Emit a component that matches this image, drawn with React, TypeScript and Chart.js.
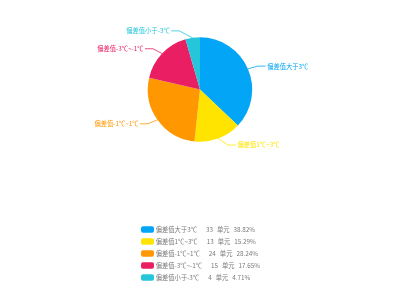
import React, { useEffect, useRef } from "react";
import { Chart, registerables } from "chart.js";

Chart.register(...registerables);

const categories = ["偏差值大于3℃", "偏差值1℃~3℃", "偏差值-1℃~1℃", "偏差值-3℃~-1℃", "偏差值小于-3℃"];
const counts = [33, 13, 24, 15, 4];
const percents = ["38.82%", "15.29%", "28.24%", "17.65%", "4.71%"];
const unitLabel = "单元";
const colors = ["#03A6F6", "#FFE400", "#FF9800", "#E91E63", "#26C6DA"];

const FONT = '"Noto Sans CJK SC", "Noto Sans", sans-serif';
const FONT_SIZE = 6.3;

const outerLabels = {
  id: "outerLabels",
  afterDatasetsDraw(chart: any) {
    const ctx = chart.ctx;
    const meta = chart.getDatasetMeta(0);
    const LEN_Y = 7;
    const LEN_X = 10;
    const LEN2 = 8;
    ctx.save();
    ctx.font = `${FONT_SIZE}px ${FONT}`;
    ctx.textBaseline = "middle";
    meta.data.forEach((arc: any, i: number) => {
      const p = arc.getProps(["x", "y", "startAngle", "endAngle", "outerRadius"], true);
      const mid = (p.startAngle + p.endAngle) / 2;
      const c = Math.cos(mid);
      const s = Math.sin(mid);
      const x1 = p.x + c * p.outerRadius;
      const y1 = p.y + s * p.outerRadius;
      const dy = s * (p.outerRadius + LEN_Y);
      const y2 = p.y + dy;
      const rr = p.outerRadius + LEN_X;
      const dir = c >= 0 ? 1 : -1;
      const x2 = p.x + dir * Math.sqrt(Math.max(0, rr * rr - dy * dy));
      const x3 = x2 + dir * LEN2;
      ctx.strokeStyle = colors[i];
      ctx.lineWidth = 0.8;
      ctx.beginPath();
      ctx.moveTo(x1, y1);
      ctx.lineTo(x2, y2);
      ctx.lineTo(x3, y2);
      ctx.stroke();
      ctx.fillStyle = colors[i];
      ctx.textAlign = dir > 0 ? "left" : "right";
      ctx.fillText(categories[i], x3 + dir * 1.5, y2);
    });
    ctx.restore();
  },
};

const customLegend = {
  id: "customLegend",
  afterDraw(chart: any) {
    const ctx = chart.ctx;
    const boxX = 141;
    const boxW = 13;
    const boxH = 6.5;
    const textX = 155.7;
    const firstY = 229.5;
    const rowGap = 12;
    ctx.save();
    ctx.font = `${FONT_SIZE}px ${FONT}`;
    ctx.textBaseline = "middle";
    ctx.textAlign = "left";
    categories.forEach((name, i) => {
      const cy = firstY + i * rowGap;
      ctx.fillStyle = colors[i];
      ctx.beginPath();
      (ctx as any).roundRect(boxX, cy - boxH / 2, boxW, boxH, 2);
      ctx.fill();
      ctx.fillStyle = "#7a7a7a";
      let x = textX;
      ctx.fillText(name, x, cy);
      x += ctx.measureText(name).width + 9;
      const v = String(counts[i]);
      ctx.fillText(v, x, cy);
      x += ctx.measureText(v).width + 4;
      ctx.fillText(unitLabel, x, cy);
      x += ctx.measureText(unitLabel).width + 4;
      ctx.fillText(percents[i], x, cy);
    });
    ctx.restore();
  },
};

export default function App() {
  const ref = useRef<HTMLCanvasElement>(null);
  useEffect(() => {
    if (!ref.current) return;
    const chart = new Chart(ref.current, {
      type: "pie",
      data: {
        labels: categories,
        datasets: [
          {
            data: counts,
            backgroundColor: colors,
            borderWidth: 0,
          },
        ],
      },
      options: {
        responsive: false,
        animation: false,
        devicePixelRatio: 1,
        layout: { padding: { top: 37.3, bottom: 158.3, left: 0, right: 0 } },
        plugins: {
          legend: { display: false },
          tooltip: { enabled: false },
        },
      },
      plugins: [outerLabels, customLegend],
    });
    return () => chart.destroy();
  }, []);
  return (
    <div style={{ position: "absolute", left: 0, top: 0, width: 400, height: 300, background: "#fff" }}>
      <canvas ref={ref} width={400} height={300} style={{ display: "block", width: 400, height: 300 }} />
    </div>
  );
}
